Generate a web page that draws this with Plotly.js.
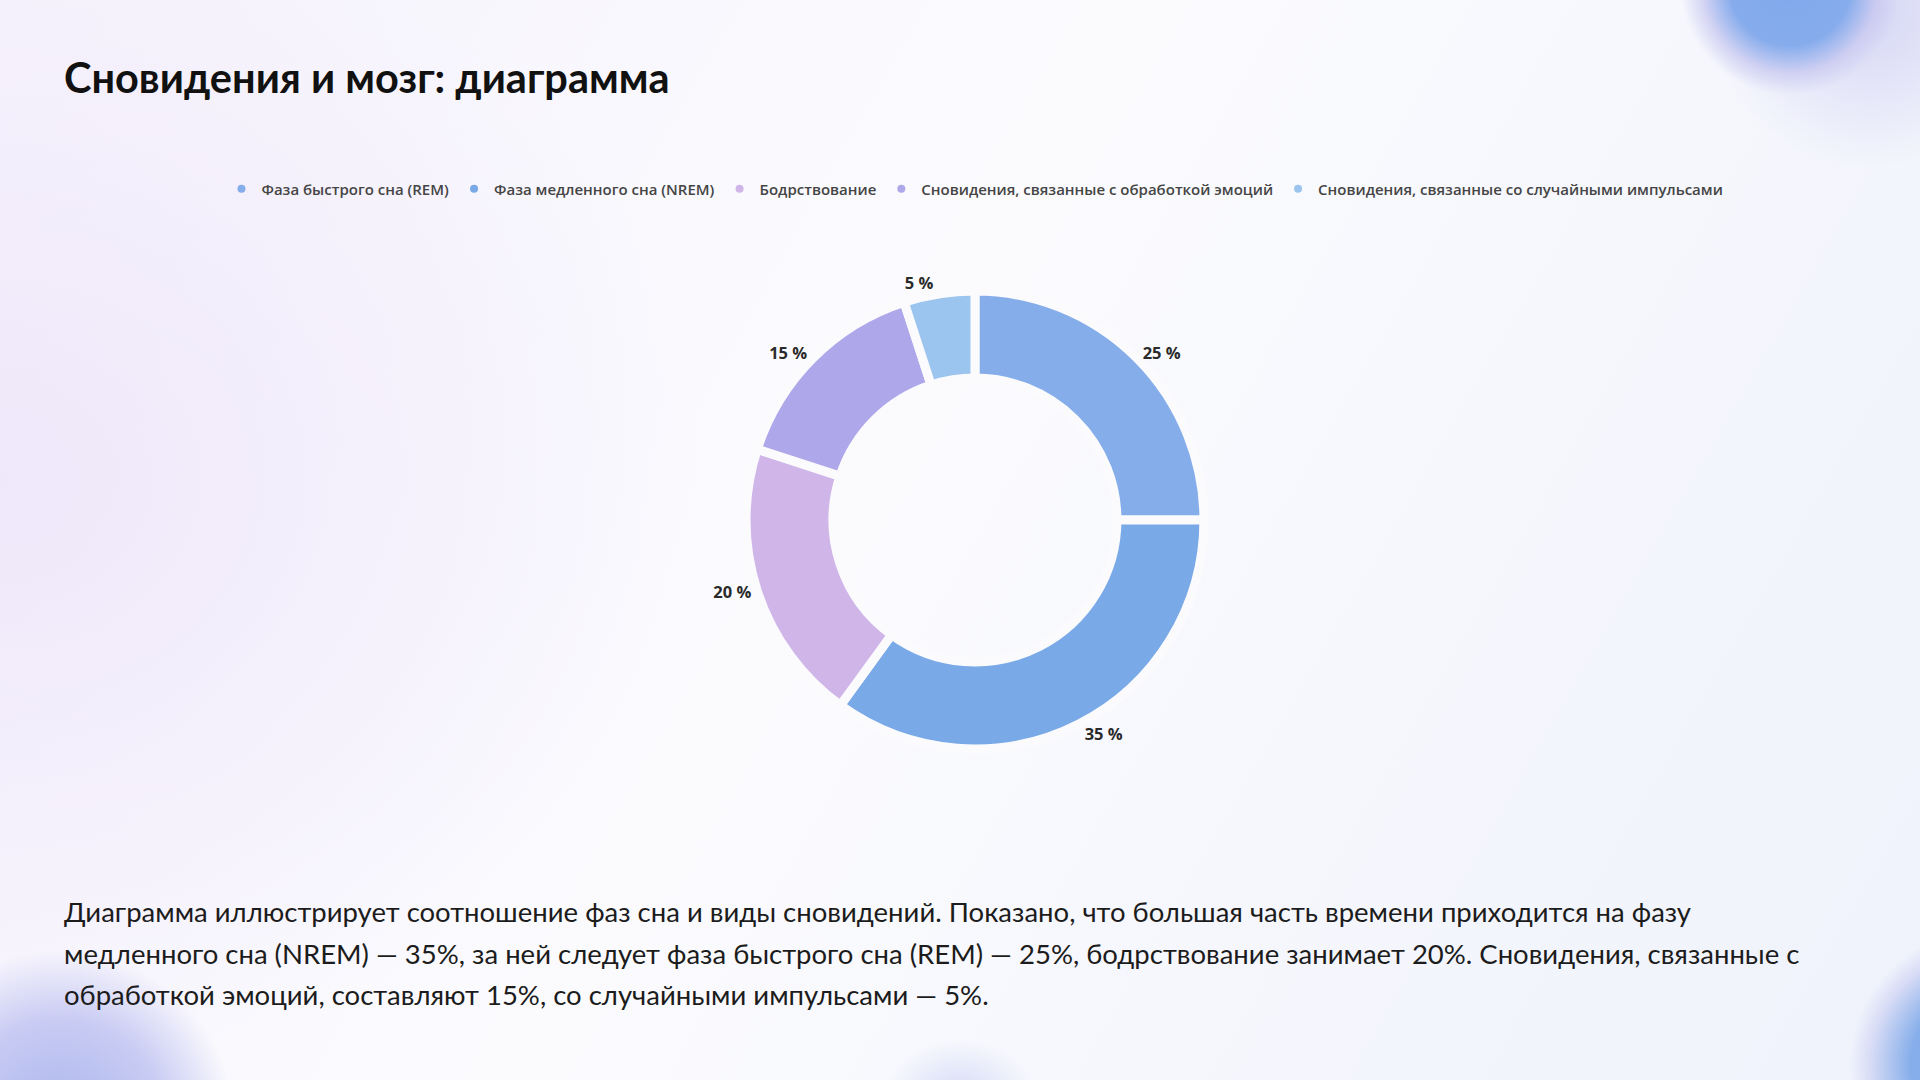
<!DOCTYPE html>
<html lang="ru">
<head>
<meta charset="utf-8">
<script src="https://cdn.plot.ly/plotly-3.0.1.min.js"></script>
<style>
html, body { margin: 0; padding: 0; }
body {
	width: 1920px; height: 1080px; overflow: hidden; position: relative;
	font-family: Lato, "Noto Sans", sans-serif;
	background:
		radial-gradient(circle 110px at 1790px -15px, #7fa9ec 0%, #86acec 55%, rgba(200,200,240,0.75) 80%, rgba(255,255,255,0) 100%),
		radial-gradient(circle 160px at 1870px 10px, rgba(205,205,242,0.8), rgba(255,255,255,0) 100%),
		radial-gradient(circle 135px at 1985px 1065px, #80aaea 0%, #86aeea 55%, rgba(200,205,242,0.6) 85%, rgba(255,255,255,0) 100%),
		radial-gradient(circle 175px at 60px 1125px, rgba(150,165,232,0.8) 0%, rgba(175,180,238,0.65) 60%, rgba(255,255,255,0) 100%),
		radial-gradient(ellipse 75px 55px at 960px 1095px, rgba(185,195,240,0.55), rgba(255,255,255,0) 100%),
		radial-gradient(ellipse 700px 600px at 0px 480px, rgba(238,230,250,0.9), rgba(255,255,255,0) 100%),
		linear-gradient(120deg, #f6f3fc 0%, #fbfbfe 45%, #eff2fb 100%);
}
#ttl {
	position: absolute; left: 64px; top: 52px; margin: 0;
	font-size: 41.5px; font-weight: 700; color: #111;
}
#txt {
	position: absolute; left: 64px; top: 891px; width: 1765px; margin: 0;
	font-size: 27.5px; line-height: 41.6px; color: #1c1c1c;
}
#chart { position: absolute; left: 0; top: 0; width: 1920px; height: 1080px; }
</style>
</head>
<body>
<h1 id="ttl">Сновидения и мозг: диаграмма</h1>
<div id="chart"></div>
<p id="txt">Диаграмма иллюстрирует соотношение фаз сна и виды сновидений. Показано, что большая часть времени приходится на фазу медленного сна (NREM) — 35%, за ней следует фаза быстрого сна (REM) — 25%, бодрствование занимает 20%. Сновидения, связанные с обработкой эмоций, составляют 15%, со случайными импульсами — 5%.</p>
<script>
	// категории и значения (проценты)
	var labels = ['Фаза быстрого сна (REM)', 'Фаза медленного сна (NREM)', 'Бодрствование',
		'Сновидения, связанные с обработкой эмоций', 'Сновидения, связанные со случайными импульсами'];
	var values = [25, 35, 20, 15, 5];
	var colors = ['#84ade9', '#79a9e6', '#cfb5e8', '#aea7e9', '#9bc5ef'];

	//кольцо
	var donut = {
		type: 'pie',
		labels: labels,
		values: values,
		hole: 0.62,
		sort: false,
		direction: 'clockwise',
		rotation: 0,
		showlegend: false,
		textposition: 'outside',
		texttemplate: '%{value} %',
		textfont: { family: 'Open Sans', size: 16.5, color: '#2a2a2a', weight: 700 },
		marker: { colors: colors, line: { color: '#fbfbfe', width: 9 } },
		domain: { x: [0.385, 0.6306], y: [0.3065, 0.7305] },
		hoverinfo: 'label+percent'
	};

	//пустые точки только для легенды с кружками
	var data = [donut];
	for (var i = 0; i < labels.length; i++) {
		data.push({
			type: 'scatter',
			mode: 'markers',
			x: [null],
			y: [null],
			name: labels[i],
			marker: { color: colors[i], size: 8, symbol: 'circle' },
			showlegend: true
		});
	}

	var layout = {
		width: 1920,
		height: 1080,
		margin: { l: 0, r: 0, t: 0, b: 0 },
		paper_bgcolor: 'rgba(0,0,0,0)',
		plot_bgcolor: 'rgba(0,0,0,0)',
		xaxis: { visible: false },
		yaxis: { visible: false },
		showlegend: true,
		legend: {
			orientation: 'h',
			x: 0.5078, xanchor: 'center',
			y: 0.825, yanchor: 'middle',
			font: { family: 'Open Sans', size: 15, color: '#454545', weight: 600 },
			itemwidth: 30,
			bgcolor: 'rgba(0,0,0,0)'
		}
	};

	Plotly.newPlot('chart', data, layout, { displayModeBar: false, staticPlot: true });
</script>
</body>
</html>
